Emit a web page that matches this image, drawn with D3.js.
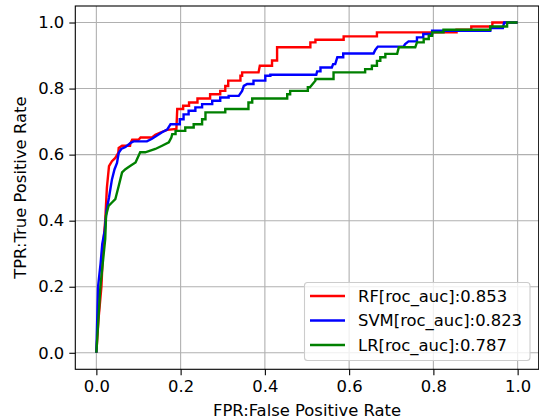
<!DOCTYPE html>
<html>
<head>
<meta charset="utf-8">
<script src="https://cdn.jsdelivr.net/npm/d3@7"></script>
<style>
  body { margin: 0; background: #fff; }
  text { font-family: "DejaVu Sans", sans-serif; fill: #000; }
</style>
</head>
<body>
<script>
(function(){

//tick values for both axes
var tickVals = [0, 0.2, 0.4, 0.6, 0.8, 1.0];

//legend labels
var seriesNames = ["RF[roc_auc]:0.853", "SVM[roc_auc]:0.823", "LR[roc_auc]:0.787"];
var seriesColors = ["#ff0000", "#0000ff", "#008000"];

//ROC points [fpr, tpr]
var rfPoints = [[0,0],[0.005,0.1],[0.012,0.2],[0.017,0.34],[0.021,0.4],[0.025,0.5],[0.03,0.565],[0.037,0.58],[0.045,0.59],[0.052,0.605],[0.053,0.62],[0.061,0.627],[0.08,0.627],[0.081,0.635],[0.085,0.645],[0.1,0.645],[0.105,0.652],[0.132,0.652],[0.14,0.66],[0.152,0.667],[0.168,0.675],[0.19,0.678],[0.192,0.738],[0.206,0.738],[0.206,0.748],[0.22,0.748],[0.22,0.758],[0.24,0.758],[0.24,0.77],[0.27,0.77],[0.27,0.783],[0.294,0.783],[0.294,0.793],[0.306,0.793],[0.306,0.808],[0.313,0.808],[0.313,0.824],[0.342,0.824],[0.342,0.839],[0.346,0.839],[0.346,0.849],[0.385,0.849],[0.388,0.869],[0.417,0.869],[0.417,0.885],[0.429,0.885],[0.429,0.925],[0.508,0.925],[0.508,0.94],[0.52,0.94],[0.52,0.948],[0.587,0.948],[0.587,0.958],[0.666,0.958],[0.666,0.97],[0.855,0.97],[0.855,0.978],[0.89,0.978],[0.89,0.988],[0.94,0.988],[0.94,1],[1,1]];

var svmPoints = [[0,0],[0.002,0.1],[0.004,0.2],[0.01,0.27],[0.014,0.33],[0.02,0.37],[0.024,0.43],[0.03,0.47],[0.037,0.525],[0.043,0.555],[0.049,0.575],[0.053,0.605],[0.059,0.617],[0.069,0.623],[0.081,0.635],[0.088,0.64],[0.12,0.64],[0.132,0.648],[0.144,0.658],[0.156,0.668],[0.168,0.676],[0.176,0.692],[0.198,0.692],[0.198,0.707],[0.207,0.707],[0.207,0.722],[0.219,0.722],[0.219,0.733],[0.235,0.733],[0.235,0.743],[0.251,0.743],[0.251,0.753],[0.275,0.753],[0.275,0.763],[0.294,0.763],[0.294,0.773],[0.314,0.773],[0.314,0.778],[0.338,0.778],[0.346,0.793],[0.35,0.808],[0.358,0.814],[0.373,0.814],[0.373,0.824],[0.401,0.824],[0.401,0.839],[0.413,0.839],[0.413,0.842],[0.522,0.842],[0.524,0.852],[0.532,0.852],[0.532,0.864],[0.559,0.864],[0.562,0.874],[0.567,0.874],[0.572,0.895],[0.586,0.895],[0.586,0.906],[0.658,0.906],[0.662,0.917],[0.668,0.927],[0.729,0.927],[0.733,0.935],[0.741,0.943],[0.761,0.943],[0.761,0.955],[0.776,0.955],[0.776,0.965],[0.797,0.965],[0.797,0.975],[0.935,0.975],[0.935,0.983],[0.965,0.983],[0.968,1],[1,1]];

var lrPoints = [[0,0],[0.0095,0.2],[0.021,0.344],[0.023,0.415],[0.029,0.445],[0.037,0.455],[0.045,0.465],[0.053,0.505],[0.061,0.546],[0.069,0.556],[0.081,0.566],[0.093,0.576],[0.104,0.607],[0.116,0.607],[0.14,0.617],[0.156,0.627],[0.172,0.637],[0.178,0.652],[0.18,0.662],[0.188,0.662],[0.188,0.672],[0.211,0.672],[0.211,0.682],[0.231,0.682],[0.231,0.692],[0.251,0.692],[0.251,0.707],[0.259,0.707],[0.259,0.728],[0.306,0.728],[0.306,0.738],[0.361,0.738],[0.361,0.758],[0.37,0.758],[0.37,0.77],[0.453,0.77],[0.453,0.783],[0.46,0.783],[0.46,0.793],[0.502,0.793],[0.502,0.804],[0.507,0.804],[0.52,0.824],[0.52,0.829],[0.563,0.829],[0.563,0.849],[0.638,0.849],[0.638,0.859],[0.654,0.859],[0.654,0.869],[0.666,0.869],[0.666,0.884],[0.674,0.884],[0.674,0.895],[0.686,0.895],[0.686,0.905],[0.714,0.905],[0.718,0.925],[0.757,0.925],[0.761,0.94],[0.777,0.94],[0.777,0.95],[0.789,0.95],[0.789,0.96],[0.797,0.96],[0.797,0.97],[0.824,0.97],[0.824,0.978],[0.935,0.978],[0.935,0.988],[0.975,0.988],[0.975,1],[1,1]];

var allSeries = [rfPoints, svmPoints, lrPoints];

//frame of the axes area
var width = 539, height = 420;
var left = 75.3, right = 538.7, top = 6, bottom = 369.3;
var fontSize = 16.4;

var svg = d3.select("body")
    .append("svg")
    .attr("width", width)
    .attr("height", height);

var x = d3.scaleLinear().domain([-0.05, 1.05]).range([left, right]);
var y = d3.scaleLinear().domain([-0.05, 1.05]).range([bottom, top]);

//grid lines
svg.append("g").selectAll("line.vgrid")
    .data(tickVals).enter().append("line")
    .attr("x1", function(d){ return x(d); })
    .attr("x2", function(d){ return x(d); })
    .attr("y1", top).attr("y2", bottom)
    .attr("stroke", "#b0b0b0").attr("stroke-width", 1.1);
svg.append("g").selectAll("line.hgrid")
    .data(tickVals).enter().append("line")
    .attr("y1", function(d){ return y(d); })
    .attr("y2", function(d){ return y(d); })
    .attr("x1", left).attr("x2", right)
    .attr("stroke", "#b0b0b0").attr("stroke-width", 1.1);

//curves
var line = d3.line()
    .x(function(d){ return x(d[0]); })
    .y(function(d){ return y(d[1]); });

svg.append("g").selectAll("path")
    .data(allSeries).enter().append("path")
    .attr("d", line)
    .attr("fill", "none")
    .attr("stroke", function(d, i){ return seriesColors[i]; })
    .attr("stroke-width", 2.4)
    .attr("stroke-linejoin", "miter");

//axes
var xAxis = d3.axisBottom(x).tickValues(tickVals).tickFormat(d3.format(".1f"))
    .tickSize(6).tickPadding(5).tickSizeOuter(0);
var yAxis = d3.axisLeft(y).tickValues(tickVals).tickFormat(d3.format(".1f"))
    .tickSize(6).tickPadding(5).tickSizeOuter(0);

var gx = svg.append("g").attr("transform", "translate(0," + bottom + ")").call(xAxis);
var gy = svg.append("g").attr("transform", "translate(" + left + ",0)").call(yAxis);
[gx, gy].forEach(function(g){
    g.select(".domain").remove();
    g.selectAll("line").attr("stroke", "#000").attr("stroke-width", 1.1);
    g.selectAll("text").style("font-size", fontSize + "px").attr("fill", "#000");
});

//frame
svg.append("rect")
    .attr("x", left).attr("y", top)
    .attr("width", right - left).attr("height", bottom - top)
    .attr("fill", "none").attr("stroke", "#000").attr("stroke-width", 1.1);

//axis titles
svg.append("text")
    .attr("x", (left + right) / 2).attr("y", 416)
    .attr("text-anchor", "middle")
    .style("font-size", fontSize + "px")
    .text("FPR:False Positive Rate");
svg.append("text")
    .attr("transform", "translate(26," + ((top + bottom) / 2) + ") rotate(-90)")
    .attr("text-anchor", "middle")
    .style("font-size", fontSize + "px")
    .text("TPR:True Positive Rate");

//legend
var legend = svg.append("g");
legend.append("rect")
    .attr("x", 304.5).attr("y", 282.5)
    .attr("width", 225.5).attr("height", 78)
    .attr("rx", 3)
    .attr("fill", "#fff").attr("fill-opacity", 0.8)
    .attr("stroke", "#cccccc").attr("stroke-width", 1.1);
var rows = legend.selectAll("g.row")
    .data(seriesNames).enter().append("g")
    .attr("transform", function(d, i){ return "translate(0," + (296 + i * 24.5) + ")"; });
rows.append("line")
    .attr("x1", 310).attr("x2", 345).attr("y1", 0).attr("y2", 0)
    .attr("stroke", function(d, i){ return seriesColors[i]; })
    .attr("stroke-width", 2.4);
rows.append("text")
    .attr("x", 358).attr("y", 0).attr("dy", "0.35em")
    .style("font-size", fontSize + "px")
    .text(function(d){ return d; });

})();
</script>
</body>
</html>
